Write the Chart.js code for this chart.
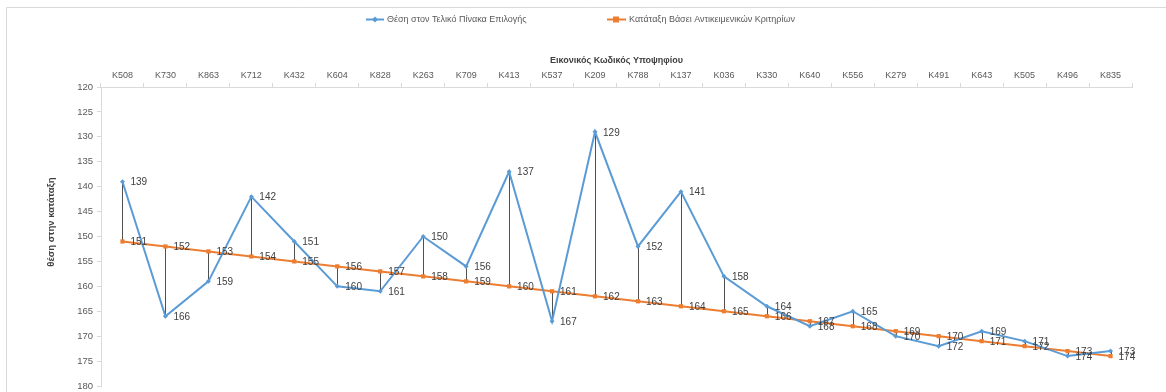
<!DOCTYPE html>
<html>
<head>
<meta charset="utf-8">
<script src="https://cdn.jsdelivr.net/npm/chart.js@4/dist/chart.umd.min.js"></script>
<style>
html,body{margin:0;padding:0;background:#fff;}
#wrap{position:relative;width:1166px;height:392px;}
</style>
</head>
<body>
<div id="wrap"><canvas id="c"></canvas></div>
<script>
const categories = ["K508","K730","K863","K712","K432","K604","K828","K263","K709","K413","K537","K209","K788","K137","K036","K330","K640","K556","K279","K491","K643","K505","K496","K835"];
const finalPosition = [139,166,159,142,151,160,161,150,156,137,167,129,152,141,158,164,168,165,170,172,169,171,174,173];
const objectiveRank = [151,152,153,154,155,156,157,158,159,160,161,162,163,164,165,166,167,168,169,170,171,172,173,174];
const seriesNames = ["Θέση στον Τελικό Πίνακα Επιλογής","Κατάταξη Βάσει Αντικειμενικών Κριτηρίων"];
const xTitle = "Εικονικός Κωδικός Υποψηφίου";
const yTitle = "θέση στην κατάταξη";
const yMin = 120, yMax = 180, yStep = 5;

const FONT = "'Liberation Sans', Arial, sans-serif";
const TXT = "#595959";
const BLUE = "#5B9BD5";
const ORANGE = "#ED7D31";

const framePlugin = {
  id: 'frame',
  beforeDraw(chart) {
    const ctx = chart.ctx;
    ctx.save();
    ctx.fillStyle = '#fff';
    ctx.fillRect(0, 0, chart.width, chart.height);
    ctx.strokeStyle = '#d9d9d9';
    ctx.lineWidth = 1;
    ctx.beginPath();
    ctx.moveTo(6.5, chart.height);
    ctx.lineTo(6.5, 7.5);
    ctx.lineTo(chart.width, 7.5);
    ctx.stroke();
    ctx.restore();
  }
};

const dropLinePlugin = {
  id: 'dropLines',
  beforeDatasetsDraw(chart) {
    const ctx = chart.ctx;
    const m0 = chart.getDatasetMeta(0), m1 = chart.getDatasetMeta(1);
    ctx.save();
    ctx.strokeStyle = '#505050';
    ctx.lineWidth = 1;
    for (let i = 0; i < m0.data.length; i++) {
      const p0 = m0.data[i], p1 = m1.data[i];
      const x = Math.round(p0.x) + 0.5;
      ctx.beginPath();
      ctx.moveTo(x, p0.y);
      ctx.lineTo(x, p1.y);
      ctx.stroke();
    }
    ctx.restore();
  }
};

const labelPlugin = {
  id: 'valueLabels',
  afterDatasetsDraw(chart) {
    const ctx = chart.ctx;
    ctx.save();
    ctx.font = "10px " + FONT;
    ctx.fillStyle = '#404040';
    ctx.textAlign = 'left';
    ctx.textBaseline = 'middle';
    chart.data.datasets.forEach((ds, di) => {
      const meta = chart.getDatasetMeta(di);
      meta.data.forEach((pt, i) => {
        ctx.fillText(String(ds.data[i]), pt.x + 8, pt.y + 1);
      });
    });
    ctx.restore();
  }
};

const legendPlugin = {
  id: 'customLegend',
  afterDraw(chart) {
    const ctx = chart.ctx;
    ctx.save();
    ctx.font = "9px " + FONT;
    ctx.fillStyle = TXT;
    ctx.textBaseline = 'middle';
    const y = 19.5;
    ctx.strokeStyle = BLUE; ctx.lineWidth = 2;
    ctx.beginPath(); ctx.moveTo(366, y); ctx.lineTo(384, y); ctx.stroke();
    ctx.fillStyle = BLUE;
    ctx.beginPath(); ctx.moveTo(375, y - 3); ctx.lineTo(378, y); ctx.lineTo(375, y + 3); ctx.lineTo(372, y); ctx.closePath(); ctx.fill();
    ctx.fillStyle = TXT;
    ctx.fillText(seriesNames[0], 387, y);
    ctx.strokeStyle = ORANGE; ctx.lineWidth = 2;
    ctx.beginPath(); ctx.moveTo(607, y); ctx.lineTo(626, y); ctx.stroke();
    ctx.fillStyle = ORANGE;
    ctx.fillRect(613, y - 3, 6, 6);
    ctx.fillStyle = TXT;
    ctx.fillText(seriesNames[1], 629, y);
    // y-axis title
    ctx.translate(51, 222);
    ctx.rotate(-Math.PI / 2);
    ctx.font = "bold 9.5px " + FONT;
    ctx.fillStyle = '#404040';
    ctx.textAlign = 'center';
    ctx.fillText(yTitle, 0, 0);
    ctx.restore();
  }
};

new Chart(document.getElementById('c'), {
  type: 'line',
  data: {
    labels: categories,
    datasets: [
      {
        label: seriesNames[0],
        data: finalPosition,
        borderColor: BLUE,
        backgroundColor: BLUE,
        borderWidth: 2,
        pointStyle: 'rectRot',
        pointRadius: 2.5,
        pointBorderWidth: 0,
        tension: 0
      },
      {
        label: seriesNames[1],
        data: objectiveRank,
        borderColor: ORANGE,
        backgroundColor: ORANGE,
        borderWidth: 2,
        pointStyle: 'rect',
        pointRadius: 3,
        pointBorderWidth: 0,
        tension: 0
      }
    ]
  },
  options: {
    responsive: true,
    maintainAspectRatio: false,
    animation: false,
    layout: { padding: { left: 0, top: 50, right: 34, bottom: 6 } },
    plugins: {
      legend: { display: false },
      tooltip: { enabled: false }
    },
    scales: {
      x: {
        position: 'top',
        offset: true,
        grid: {
          display: true,
          drawOnChartArea: false,
          drawTicks: true,
          tickLength: 4,
          color: '#d9d9d9',
          offset: true
        },
        border: { display: true, color: '#d9d9d9' },
        ticks: {
          color: TXT,
          font: { family: FONT, size: 9 },
          padding: 2,
          maxRotation: 0,
          autoSkip: false
        },
        title: {
          display: true,
          text: xTitle,
          color: '#404040',
          font: { family: FONT, size: 9, weight: 'bold' },
          padding: { top: 5, bottom: 0 }
        },
        afterFit(scale) { scale.height = 37; scale.paddingLeft = 0; scale.paddingRight = 0; }
      },
      y: {
        reverse: true,
        min: yMin,
        max: yMax,
        grid: {
          display: true,
          drawOnChartArea: false,
          drawTicks: true,
          tickLength: 4,
          color: '#d9d9d9'
        },
        border: { display: true, color: '#d9d9d9' },
        ticks: {
          stepSize: yStep,
          color: TXT,
          font: { family: FONT, size: 9.5 },
          padding: 4
        },
        title: { display: false },
        afterFit(scale) { scale.width = 101; scale.paddingTop = 0; scale.paddingBottom = 0; }
      }
    }
  },
  plugins: [framePlugin, dropLinePlugin, labelPlugin, legendPlugin]
});
</script>
</body>
</html>
